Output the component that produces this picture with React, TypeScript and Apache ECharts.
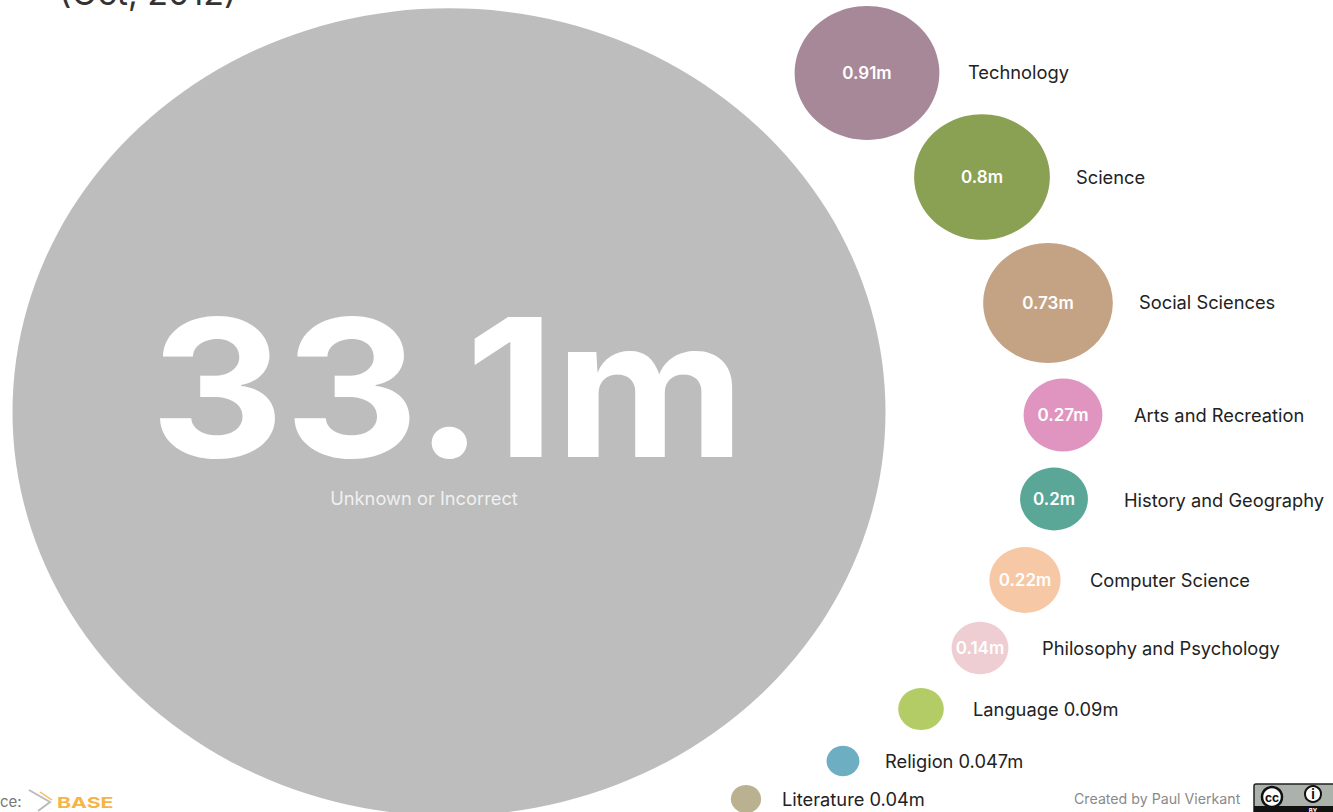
import React, { useEffect, useRef } from "react";
import * as echarts from "echarts";

const names = ["Unknown or Incorrect", "Technology", "Science", "Social Sciences", "Arts and Recreation", "History and Geography", "Computer Science", "Philosophy and Psychology", "Language 0.09m", "Religion 0.047m", "Literature 0.04m"];
const values = [33.1, 0.91, 0.8, 0.73, 0.27, 0.2, 0.22, 0.14, 0.09, 0.047, 0.04];
const valueLabels = ["33.1m", "0.91m", "0.8m", "0.73m", "0.27m", "0.2m", "0.22m", "0.14m", "", "", ""];
const centerX = [449, 867, 982, 1048, 1063, 1054, 1025, 980, 921, 843, 746];
const centerY = [412, 73, 177, 303, 415, 499, 580, 648, 709, 761, 799];
const colors = ["#bdbdbd", "#a78899", "#8aa052", "#c4a385", "#e095c0", "#5aa697", "#f7c8a6", "#efced3", "#b3cc66", "#6daec3", "#b9b18f"];
const nameX = [424, 968, 1076, 1139, 1134, 1124, 1090, 1042, 973, 885, 782];
const nameY = [498, 72, 177, 302, 415, 500, 580, 648, 709, 761, 799];

const FONT = "Inter";

export default function App() {
  const ref = useRef<HTMLDivElement>(null);
  useEffect(() => {
    const chart = echarts.init(ref.current!, null, { renderer: "svg" });
    const bubble = (v: number) => {
      const w = Math.sqrt(v / 33.1) * 873;
      return [w, w * 0.925];
    };
    chart.setOption({
      animation: false,
      backgroundColor: "#ffffff",
      grid: { left: 0, right: 0, top: 0, bottom: 0 },
      xAxis: { type: "value", min: 0, max: 1333, show: false },
      yAxis: { type: "value", min: 0, max: 812, inverse: true, show: false },
      series: [
        {
          type: "scatter",
          silent: true,
          data: values.map((v, i) => ({
            value: [centerX[i], centerY[i], v],
            itemStyle: { color: colors[i], opacity: 1 },
            label: {
              show: i > 0,
              position: "inside",
              formatter: valueLabels[i],
              color: "#ffffff",
              fontFamily: FONT,
              fontWeight: 600,
              fontSize: 17,
            },
          })),
          symbolSize: (d: number[]) => bubble(d[2]),
        },
        {
          type: "scatter",
          silent: true,
          symbolSize: 0,
          itemStyle: { opacity: 1 },
          data: names.map((n, i) => ({
            value: [nameX[i], nameY[i]],
            label: {
              show: true,
              position: i === 0 ? "inside" : "right",
              distance: 0,
              formatter: n,
              color: i === 0 ? "#f0f0f0" : "#222222",
              fontFamily: FONT,
              fontSize: 18.3,
            },
          })),
        },
      ],
      graphic: [
        { type: "text", z: 20, x: 150, y: 387, scaleX: 1.085, style: { text: valueLabels[0], verticalAlign: "middle", fontFamily: FONT, fontWeight: 700, fontSize: 192, fill: "#ffffff" } },
        { type: "text", z: 20, x: 59, y: -25, style: { text: "(Oct, 2012)", fontFamily: FONT, fontSize: 34, fill: "#333333" } },
        { type: "text", z: 20, x: -33, y: 794, style: { text: "Source:", fontFamily: FONT, fontSize: 15, fill: "#777777" } },
        { type: "polyline", z: 20, shape: { points: [[29, 790], [50, 802], [38, 811]] }, style: { fill: "none", stroke: "#bbbbbb", lineWidth: 2 } },
        { type: "polyline", z: 20, shape: { points: [[40, 792], [52, 800]] }, style: { fill: "none", stroke: "#f5b95a", lineWidth: 1.5 } },
        { type: "text", z: 20, x: 57, y: 795, scaleX: 1.42, style: { text: "BASE", fontFamily: FONT, fontWeight: "bold", fontSize: 15, fill: "#f5b445" } },
        { type: "text", z: 20, x: 1074, y: 791, style: { text: "Created by Paul Vierkant", fontFamily: FONT, fontSize: 14.2, fill: "#8a8a8a" } },
        { type: "rect", z: 20, shape: { x: 1254, y: 784, width: 85, height: 30, r: 2 }, style: { fill: "#aab2ab", stroke: "#222222", lineWidth: 1.5 } },
        { type: "rect", z: 21, shape: { x: 1254, y: 806, width: 85, height: 8 }, style: { fill: "#111111" } },
        { type: "circle", z: 21, shape: { cx: 1272, cy: 797, r: 10 }, style: { fill: "#ffffff", stroke: "#111111", lineWidth: 2.5 } },
        { type: "text", z: 22, x: 1272, y: 797, style: { text: "cc", align: "center", verticalAlign: "middle", fontFamily: FONT, fontWeight: "bold", fontSize: 12, fill: "#111111" } },
        { type: "circle", z: 21, shape: { cx: 1313, cy: 794, r: 8 }, style: { fill: "#ffffff", stroke: "#111111", lineWidth: 2 } },
        { type: "text", z: 22, x: 1313, y: 794, style: { text: "i", align: "center", verticalAlign: "middle", fontFamily: FONT, fontWeight: "bold", fontSize: 13, fill: "#111111" } },
        { type: "text", z: 22, x: 1313, y: 810, style: { text: "BY", align: "center", verticalAlign: "middle", fontFamily: FONT, fontWeight: "bold", fontSize: 6, fill: "#ffffff" } },
      ],
    });
    return () => chart.dispose();
  }, []);
  return <div ref={ref} style={{ position: "fixed", left: 0, top: 0, width: 1333, height: 812 }} />;
}
